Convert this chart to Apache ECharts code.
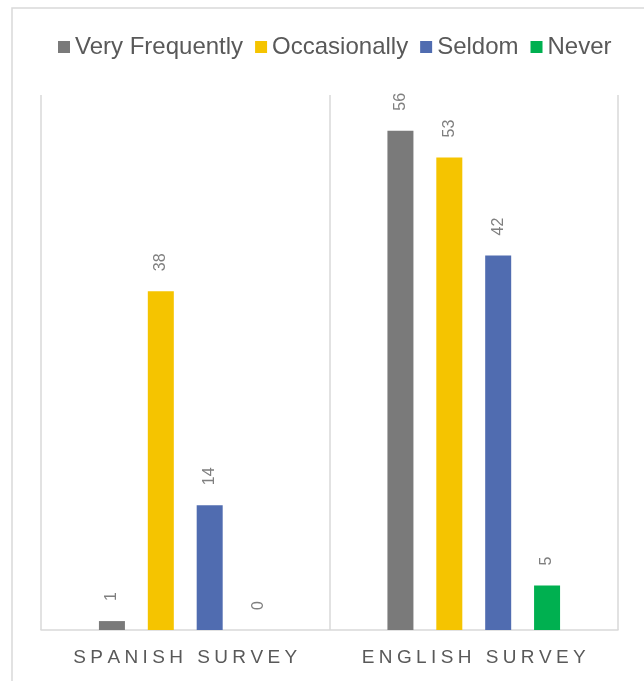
<!DOCTYPE html>
<html>
<head>
<meta charset="utf-8">
<script src="https://cdn.jsdelivr.net/npm/echarts@6/dist/echarts.min.js"></script>
<style>
html,body{margin:0;padding:0;background:#fff;}
#chart{width:644px;height:681px;}
</style>
</head>
<body>
<div id="chart"></div>
<script>
const categories = ['SPANISH SURVEY', 'ENGLISH SURVEY'];
const seriesNames = ['Very Frequently', 'Occasionally', 'Seldom', 'Never'];
const veryFrequently = [1, 56];
const occasionally = [38, 53];
const seldom = [14, 42];
const never = [0, 5];
const seriesValues = [veryFrequently, occasionally, seldom, never];
const colors = ['#7a7a7a', '#f5c400', '#506cb0', '#00b050'];

const FONT = '"Liberation Sans", Arial, sans-serif';
const chart = echarts.init(document.getElementById('chart'), null, {renderer: 'canvas'});

const series = seriesNames.map((name, i) => ({
  name: name,
  type: 'bar',
  data: seriesValues[i],
  barWidth: 26,
  barGap: '88%',
  itemStyle: {color: colors[i]},
  label: {
    show: true,
    position: 'top',
    rotate: 90,
    align: 'left',
    verticalAlign: 'middle',
    distance: 20,
    fontSize: 16,
    fontFamily: FONT,
    color: '#7f7f7f'
  }
}));

chart.setOption({
  animation: false,
  backgroundColor: '#fff',
  graphic: [{
    type: 'rect',
    shape: {x: 12, y: 8, width: 700, height: 700},
    style: {fill: 'none', stroke: '#d9d9d9', lineWidth: 1.5},
    silent: true
  }],
  legend: {
    data: seriesNames,
    top: 30,
    left: 53,
    icon: 'rect',
    itemWidth: 12,
    itemHeight: 12,
    itemGap: 12,
    textStyle: {fontSize: 24, color: '#595959', fontFamily: FONT}
  },
  grid: {left: 41, right: 26, top: 95, bottom: 51, containLabel: false},
  xAxis: {
    type: 'category',
    data: categories,
    axisLine: {lineStyle: {color: '#d9d9d9', width: 1.5}},
    axisTick: {show: false, interval: 0},
    splitLine: {show: true, interval: 0, lineStyle: {color: '#d9d9d9', width: 1.5}},
    axisLabel: {
      interval: 0,
      margin: 18,
      formatter: function (v) {
        return v.split('').map(c => '{c|' + c + '}').join('');
      },
      rich: {
        c: {fontSize: 19, color: '#595959', fontFamily: FONT, padding: [0, 2.2, 0, 2.2]}
      }
    }
  },
  yAxis: {
    type: 'value',
    min: 0,
    max: 60,
    show: false,
    splitLine: {show: false}
  },
  series: series
});
</script>
</body>
</html>
